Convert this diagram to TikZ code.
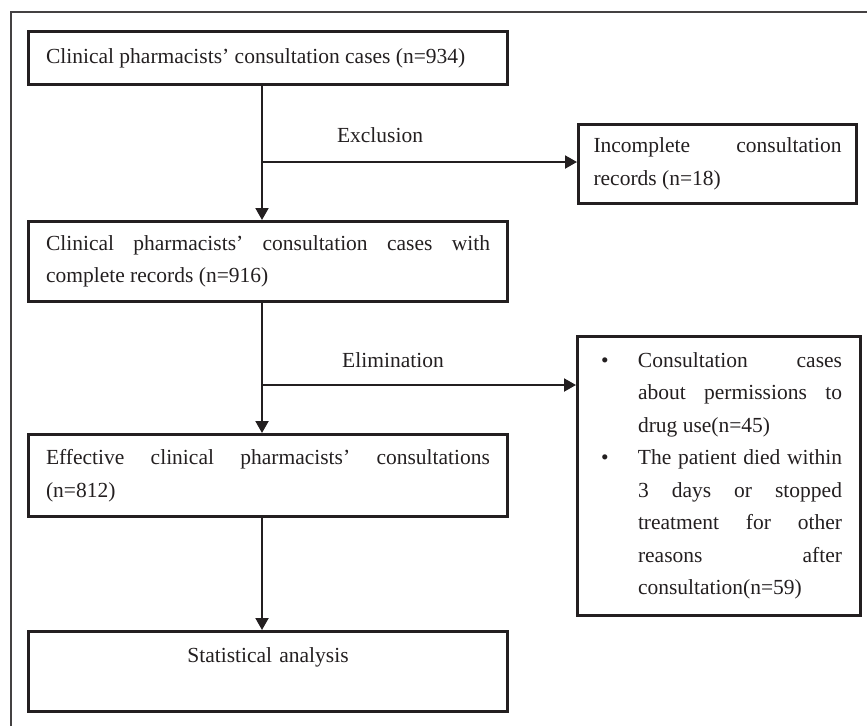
\documentclass[tikz,border=0pt]{standalone}
\usepackage{fontspec}
\setmainfont{Liberation Serif}
\usetikzlibrary{arrows.meta, positioning}
\definecolor{inkblack}{RGB}{35, 31, 32}
\newcommand{\boxfont}{\fontsize{21.5pt}{32.5pt}\selectfont}
\newcommand{\bulletitem}{\noindent\makebox[42pt][l]{\hspace{5pt}\textbullet}\hangindent=42pt\hangafter=1\relax}

\begin{document}
\begin{tikzpicture}[x=1pt, y=-1pt,
    flowbox/.style={draw=inkblack, line width=3pt, text width=444pt, inner xsep=17.5pt, inner ysep=0pt, align=justify, font=\boxfont, text=inkblack},
    sidebox/.style={flowbox, text width=248pt, inner xsep=15pt},
    listbox/.style={draw=inkblack, line width=3pt, inner xsep=18.5pt, inner ysep=0pt, font=\boxfont, text=inkblack},
    link/.style={draw=inkblack, line width=2pt},
    arrow/.style={link, -{Triangle[length=12pt, width=13pt]}},
    steplabel/.style={font=\boxfont, text=inkblack}]

    \useasboundingbox (0,0) rectangle (867,726);

    % outer frame
    \draw[inkblack!85, line width=1.5pt] (11,726) -- (11,12) -- (867,12);

    % main column
    \node[flowbox, minimum height=53pt] (cases) at (268,58)
        {Clinical pharmacists' consultation cases (n=934)};
    \node[flowbox, minimum height=80pt] (complete) at (268,261.5)
        {Clinical pharmacists' consultation cases with\linebreak complete records (n=916)};
    \node[flowbox, minimum height=82pt] (effective) at (268,475.5)
        {Effective clinical pharmacists' consultations\linebreak (n=812)};
    \node[flowbox, align=center, minimum height=80pt] (stats) at (268,671.5)
        {Statistical analysis\\ \mbox{}};

    % excluded cases
    \node[sidebox, minimum height=79pt] (incomplete) at (717.5,164)
        {Incomplete consultation\linebreak records (n=18)};
    \node[listbox, minimum height=279pt] (eliminated) at (719,476)
        {\begin{minipage}{246pt}
         \bulletitem Consultation cases\linebreak about permissions to\linebreak drug use(n=45)\par
         \bulletitem The patient died within\linebreak 3 days or stopped\linebreak treatment for other\linebreak reasons after\linebreak consultation(n=59)
         \end{minipage}};

    % spine and forks
    \coordinate (spine) at (262,0);
    \coordinate (fork1) at (262,162);
    \coordinate (fork2) at (262,385);

    \draw[arrow] (cases.south -| spine) -- (complete.north -| spine);
    \draw[arrow] (complete.south -| spine) -- (effective.north -| spine);
    \draw[arrow] (effective.south -| spine) -- (stats.north -| spine);
    \draw[arrow] (fork1) -- (fork1 -| incomplete.west);
    \draw[arrow] (fork2) -- (fork2 -| eliminated.west);

    \node[steplabel] (exclusion) at (380,135) {Exclusion};
    \node[steplabel] (elimination) at (393,360) {Elimination};

\end{tikzpicture}
\end{document}
